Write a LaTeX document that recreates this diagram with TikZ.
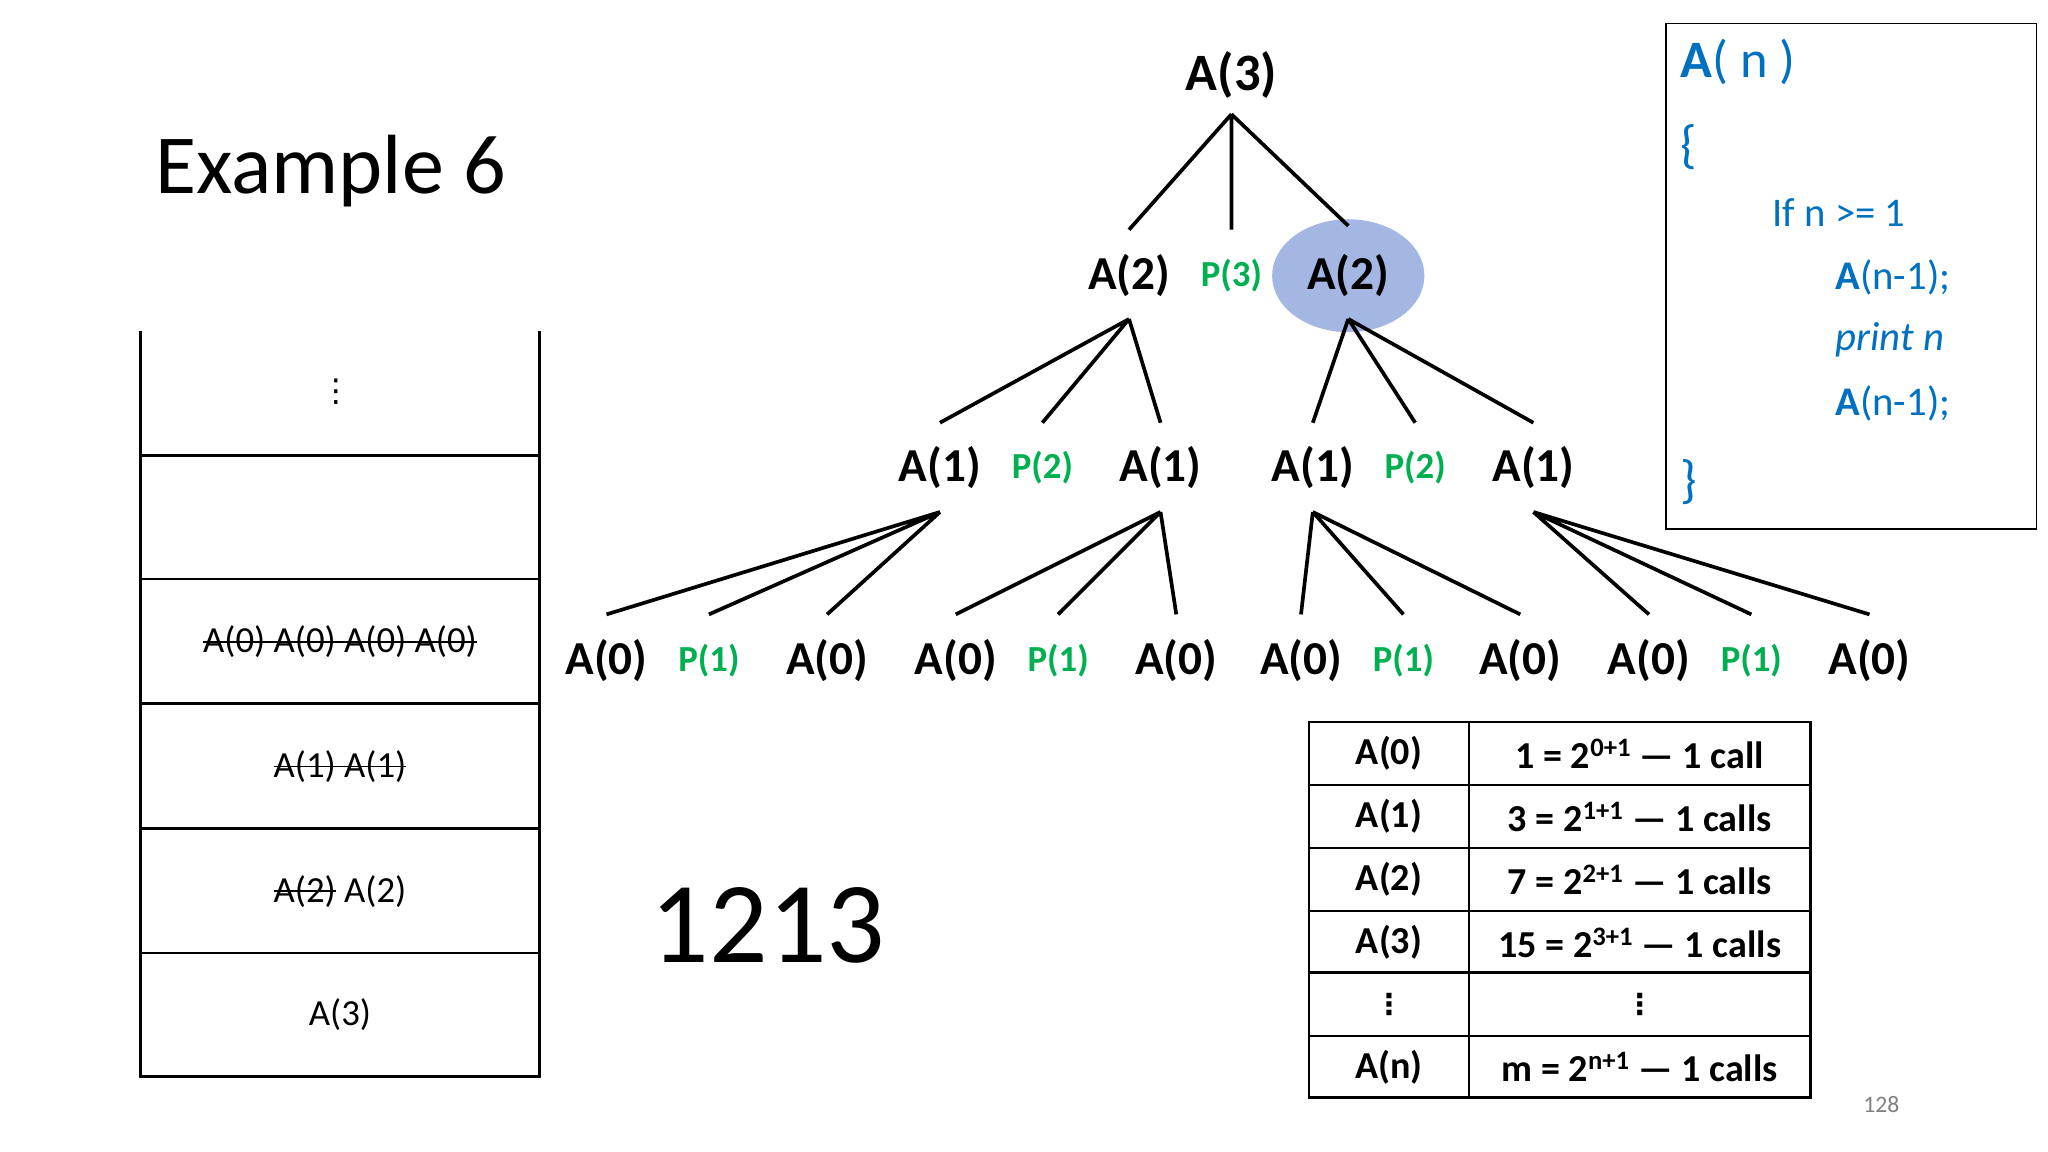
\documentclass[tikz,border=0pt]{standalone}
\usepackage{fontspec}
\setmainfont{Carlito}
\newfontfamily\djv{DejaVu Sans}
\definecolor{pgreen}{RGB}{0,176,80}
\definecolor{cblue}{RGB}{0,112,192}
\definecolor{hl}{RGB}{164,182,226}
\newcommand\strk[1]{\setbox0\hbox{#1}\rlap{\rule[0.28em]{\wd0}{1.3pt}}\box0}
\newcommand\vd{{\djv ⋮}}
\begin{document}
\begin{tikzpicture}[x=1pt,y=-1pt,
  an/.style={font=\fontsize{36}{40}\selectfont\bfseries,inner sep=0pt},
  pn/.style={font=\fontsize{28}{32}\selectfont\bfseries,text=pgreen,inner sep=0pt},
  br/.style={line width=2.8pt},
  sk/.style={font=\fontsize{28}{32}\selectfont},
  tb/.style={font=\fontsize{29}{32}\selectfont\bfseries},
  cd/.style={font=\fontsize{31}{34}\selectfont,text=cblue,anchor=west,inner sep=0pt}]
\useasboundingbox (0,0) rectangle (1560,877.5);
\node[font=\fontsize{64}{70}\selectfont,anchor=west] (title) at (115,130) {Example 6};
\node[font=\fontsize{88}{96}\selectfont] (num) at (585,705) {1213};
\node[font=\fontsize{18}{20}\selectfont,text=gray] (pg) at (1433,841) {128};
% tree
\fill[hl] (1027,210) ellipse [x radius=58,y radius=43];
\node[an,font=\fontsize{40}{44}\selectfont\bfseries] (r) at (938,57) {A(3)};
\node[an] (b1) at (860,210) {A(2)};
\node[pn] (p3) at (938,210) {P(3)};
\node[an] (b2) at (1027,210) {A(2)};
\foreach \n/\x in {c1/716,c3/884,c4/1000,c6/1168}
  \node[an] (\n) at (\x,356) {A(1)};
\foreach \n/\x in {c2/794,c5/1078}
  \node[pn] (\n) at (\x,356) {P(2)};
\foreach \n/\x in {d1/462,d3/630,d4/728,d6/896,d7/991,d9/1158,d10/1256,d12/1424}
  \node[an] (\n) at (\x,503) {A(0)};
\foreach \n/\x in {d2/540,d5/806,d8/1069,d11/1334}
  \node[pn] (\n) at (\x,503) {P(1)};
\coordinate (rb) at (938,87);
\coordinate (b1b) at (860,243);
\coordinate (b2b) at (1027,243);
\coordinate (c1b) at (716,390);
\coordinate (c3b) at (884,390);
\coordinate (c4b) at (1000,390);
\coordinate (c6b) at (1168,390);
\draw[br] (rb) -- (860,175) (rb) -- (938,175) (rb) -- (1027,172);
\draw[br] (b1b) -- (716,322) (b1b) -- (794,322) (b1b) -- (884,322);
\draw[br] (b2b) -- (1000,322) (b2b) -- (1078,322) (b2b) -- (1168,322);
\draw[br] (c1b) -- (462,468) (c1b) -- (540,468) (c1b) -- (630,468);
\draw[br] (c3b) -- (728,468) (c3b) -- (806,468) (c3b) -- (896,468);
\draw[br] (c4b) -- (991,468) (c4b) -- (1069,468) (c4b) -- (1158,468);
\draw[br] (c6b) -- (1256,468) (c6b) -- (1334,468) (c6b) -- (1424,468);
% stack
\draw[line width=2pt] (107,252) -- (107,820) -- (411,820) -- (411,252);
\foreach \y in {347,441,536,631,726} \draw[line width=2pt] (107,\y) -- (411,\y);
\node[sk,font=\fontsize{24}{28}\selectfont] (s1) at (256,298) {\vd};
\node[sk] (s3) at (259,489) {\strk{A(0) A(0) A(0) A(0)}};
\node[sk] (s4) at (259,584) {\strk{A(1) A(1)}};
\node[sk] (s5) at (259,679) {\strk{A(2)}\ A(2)};
\node[sk] (s6) at (259,773) {A(3)};
% table
\draw[line width=2pt] (997,550) rectangle (1379,836);
\draw[line width=2pt] (1119,550) -- (1119,836);
\foreach \y in {598,646,694,741,789} \draw[line width=2pt] (997,\y) -- (1379,\y);
\foreach \t/\u/\y [count=\i] in {A(0)/{1 = 2\textsuperscript{0+1} — 1 call}/574,
  A(1)/{3 = 2\textsuperscript{1+1} — 1 calls}/622,
  A(2)/{7 = 2\textsuperscript{2+1} — 1 calls}/670,
  A(3)/{15 = 2\textsuperscript{3+1} — 1 calls}/718,
  {\fontsize{22}{24}\selectfont\vd}/{\fontsize{22}{24}\selectfont\vd}/765,
  A(n)/{m = 2\textsuperscript{n+1} — 1 calls}/813}{
  \node[tb] (tl\i) at (1058,\y) {\t};
  \node[tb] (tr\i) at (1249,\y) {\u};}
% code
\draw[line width=1pt] (1269,18) rectangle (1551,403);
\node[cd,font=\fontsize{40}{44}\selectfont] (k1) at (1280,47) {\textbf{A}( n )};
\node[cd,font=\fontsize{40}{44}\selectfont] (k2) at (1280,112) {\{};
\node[cd] (k3) at (1350,162) {If n >= 1};
\node[cd] (k4) at (1398,211) {\textbf{A}(n-1);};
\node[cd] (k5) at (1398,259) {\itshape print n};
\node[cd] (k6) at (1398,307) {\textbf{A}(n-1);};
\node[cd,font=\fontsize{40}{44}\selectfont] (k7) at (1280,367) {\}};
\end{tikzpicture}
\end{document}
